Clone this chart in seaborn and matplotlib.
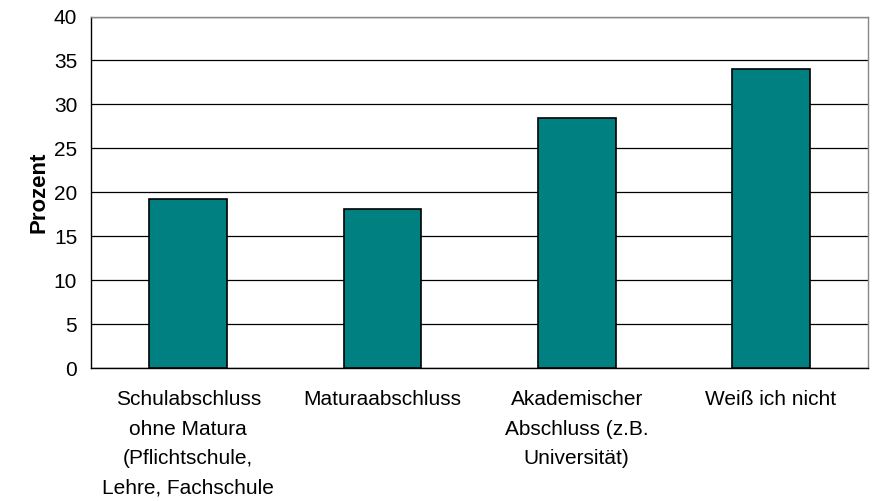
import numpy as np
import pandas as pd
import matplotlib.pyplot as plt
import seaborn as sns

sns.set_style('white')
plt.rcParams['font.family'] = ['Liberation Sans', 'DejaVu Sans']
plt.rcParams['text.color'] = 'black'

categories = ['Schulabschluss\nohne Matura\n(Pflichtschule,\nLehre, Fachschule',
              'Maturaabschluss',
              'Akademischer\nAbschluss (z.B.\nUniversität)',
              'Weiß ich nicht']
prozent = [19.3, 18.1, 28.5, 34.0]

df = pd.DataFrame({'Abschluss': categories, 'Prozent': prozent})

fig = plt.figure(figsize=(8.76, 5.01), dpi=100)
ax = fig.add_axes([0.104, 0.265, 0.887, 0.702])

sns.barplot(data=df, x='Abschluss', y='Prozent', color='#008080', saturation=1,
            width=0.4, edgecolor='black', linewidth=1.2, ax=ax, zorder=3)

ax.set_ylim(0, 40)
ax.set_xlim(-0.5, 3.5)
ax.set_yticks(range(0, 41, 5))
ax.yaxis.grid(True, color='black', linewidth=0.9, zorder=0)
ax.set_axisbelow(True)

# category separators as tick marks (Excel style)
ax.set_xticks(np.arange(-0.5, 4, 1), minor=True)
ax.tick_params(axis='x', which='minor', length=5, width=0.9, color='black', direction='out')
ax.tick_params(axis='x', which='major', length=0, pad=16, labelsize=15, labelcolor='black')
ax.tick_params(axis='y', length=5, width=0.9, color='black', direction='out', labelsize=15,
               pad=5, labelcolor='black')
for lab in ax.get_xticklabels():
    lab.set_linespacing(1.68)
    lab.set_verticalalignment('top')

ax.set_xlabel('')
ax.set_ylabel('Prozent', fontsize=16, fontweight='bold', labelpad=3, color='black')

for s in ['left', 'bottom']:
    ax.spines[s].set_color('black')
    ax.spines[s].set_linewidth(1.0)
for s in ['top', 'right']:
    ax.spines[s].set_color('#888888')
    ax.spines[s].set_linewidth(1.0)

fig.savefig('out.png', dpi=100, facecolor='white')
